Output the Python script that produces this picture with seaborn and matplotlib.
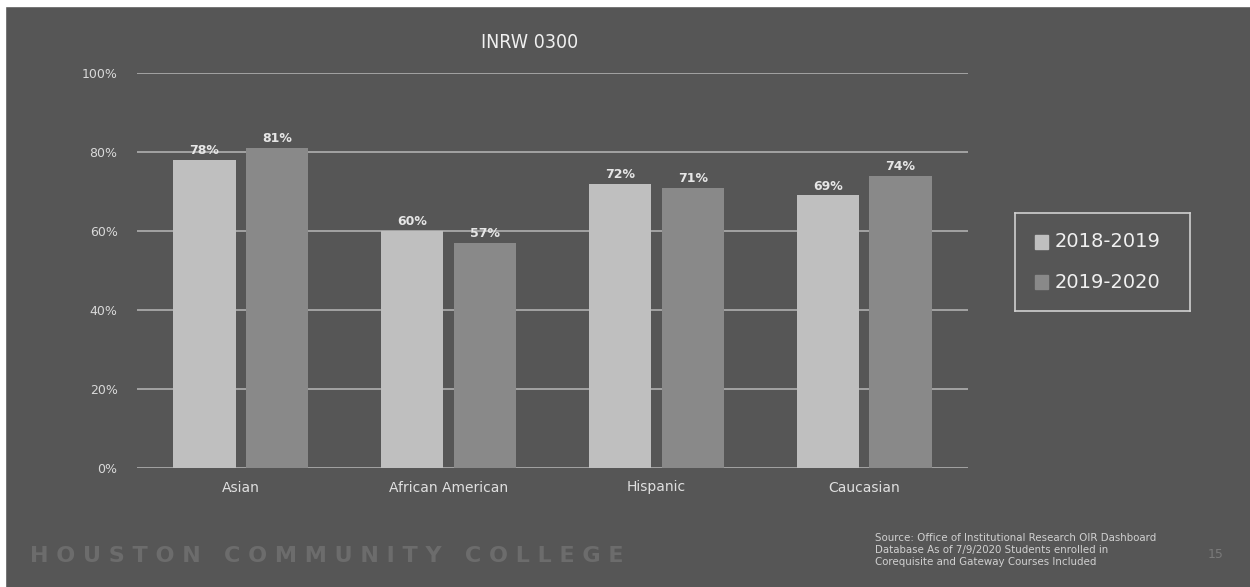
import pandas as pd
import seaborn as sns
import matplotlib.pyplot as plt
from matplotlib.patches import Rectangle

# DATA

groups = ["Asian", "African American", "Hispanic", "Caucasian"]
years = ["2018-2019", "2019-2020"]
rate_2018_2019 = [78, 60, 72, 69]
rate_2019_2020 = [81, 57, 71, 74]
yticks = [0, 20, 40, 60, 80, 100]

df = pd.DataFrame({
    "group": groups * 2,
    "year": [years[0]] * 4 + [years[1]] * 4,
    "rate": rate_2018_2019 + rate_2019_2020,
})

bg = "#565656"
txt = "#e6e6e6"

sns.set_style("white")
plt.rcParams["font.family"] = ["DejaVu Sans"]

fig = plt.figure(figsize=(12.5, 5.87), dpi=100, facecolor=bg)

# thin white border from the slide capture (top and left)
fig.patches.append(Rectangle((0, 1 - 6 / 587), 1, 6 / 587, transform=fig.transFigure,
                             color="white", zorder=-1))
fig.patches.append(Rectangle((0, 0), 5 / 1250, 1, transform=fig.transFigure,
                             color="white", zorder=-1))

ax = fig.add_axes([137 / 1250, 1 - 468 / 587, 831 / 1250, 395 / 587])
ax.set_facecolor(bg)

sns.barplot(data=df, x="group", y="rate", hue="year", order=groups,
            palette=["#bfbfbf", "#898989"], width=0.7, gap=0.143,
            linewidth=0, ax=ax, legend=False, zorder=3)

for cont in ax.containers:
    ax.bar_label(cont, labels=[f"{v:.0f}%" for v in cont.datavalues],
                 color=txt, fontsize=9, fontweight="bold", padding=2)

ax.set_ylim(0, 100)
ax.set_xlim(-0.5, 3.5)
ax.set_yticks(yticks)
ax.set_yticklabels([f"{t}%" for t in yticks], color="#d9d9d9", fontsize=9)
ax.yaxis.grid(True, color="#b0b0b0", linewidth=1.2, zorder=0)
ax.tick_params(axis="y", length=0, pad=14)
ax.tick_params(axis="x", length=0, pad=9, labelcolor="#e0e0e0", labelsize=10)
ax.set_xlabel("")
ax.set_ylabel("")
for s in ax.spines.values():
    s.set_visible(False)

# title
fig.text(530 / 1250, 1 - 42 / 587, "INRW 0300", ha="center", va="center",
         color="#f0f0f0", fontsize=14, fontstretch="condensed")

# legend box
lax = fig.add_axes([1015 / 1250, 1 - 311 / 587, 175 / 1250, 98 / 587])
lax.set_xlim(0, 175)
lax.set_ylim(98, 0)
lax.set_facecolor(bg)
for s in lax.spines.values():
    s.set_color("#d0d0d0")
    s.set_linewidth(1.2)
lax.set_xticks([])
lax.set_yticks([])
for i, (lab, col) in enumerate(zip(years, ["#bfbfbf", "#898989"])):
    yy = 29 + i * 40
    lax.add_patch(Rectangle((20, yy - 7), 13, 14, color=col))
    lax.text(40, yy, lab, va="center", ha="left", color="#f0f0f0", fontsize=14)

# footer
fig.text(30 / 1250, 1 - 556 / 587, "H O U S T O N   C O M M U N I T Y   C O L L E G E",
         ha="left", va="center", color="#6c6c6c", fontsize=16, fontweight="bold")
fig.text(875 / 1250, 1 - 550 / 587,
         "Source: Office of Institutional Research OIR Dashboard\n"
         "Database As of 7/9/2020 Students enrolled in\n"
         "Corequisite and Gateway Courses Included",
         ha="left", va="center", color="#d0d0d0", fontsize=7.4, linespacing=1.3)
fig.text(1216 / 1250, 1 - 555 / 587, "15", ha="center", va="center",
         color="#7a7a7a", fontsize=9)

fig.savefig("out.png", dpi=100, facecolor=bg)
